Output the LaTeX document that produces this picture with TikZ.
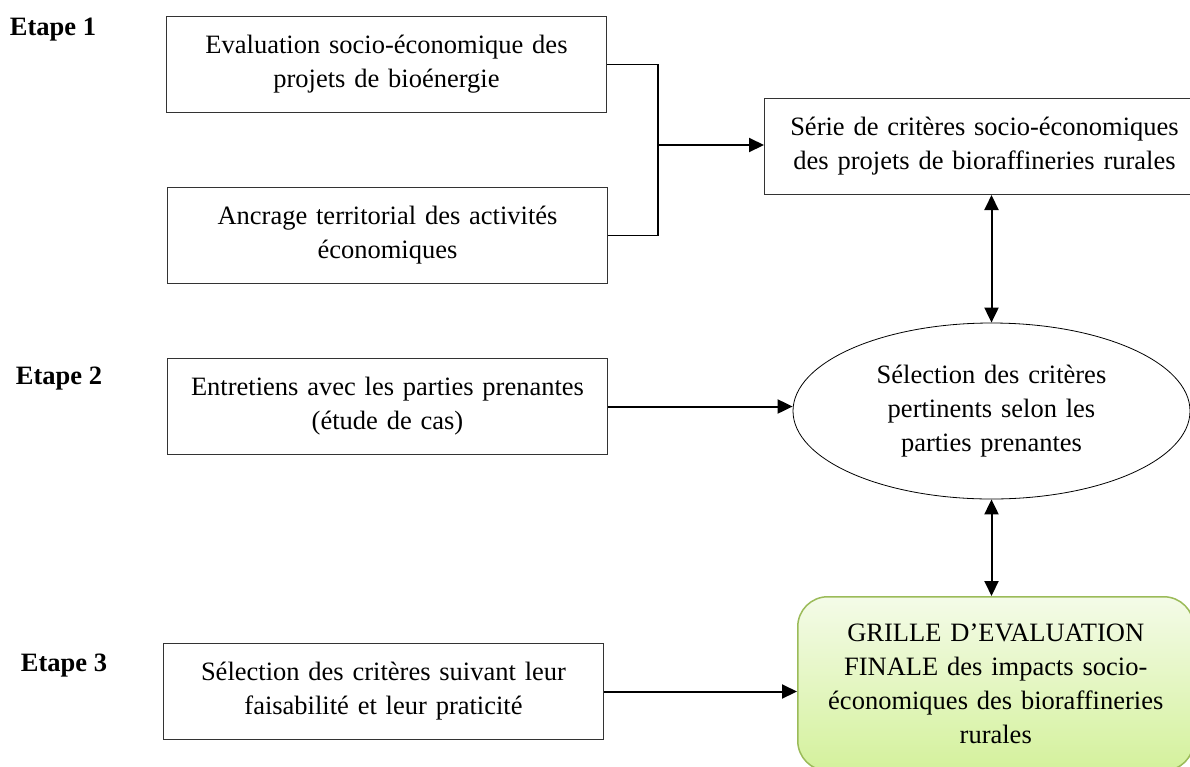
\documentclass[tikz,border=0pt]{standalone}
\usepackage{fontspec}
\setmainfont{Liberation Serif}
\usetikzlibrary{shapes.geometric,arrows.meta}
\definecolor{vertclair}{HTML}{F4FBE8}
\definecolor{vertfonce}{HTML}{D4F19C}
\definecolor{vertbord}{HTML}{9BBB59}
\tikzstyle{incolore} = [rectangle, draw=black!80, line width=1pt, minimum height=96pt, minimum width=440pt, text width=425pt, text centered, inner sep=4pt]
\tikzstyle{bulle} = [ellipse, draw=black, line width=0.8pt, minimum width=397pt, minimum height=176pt, text width=240pt, text centered, inner sep=0pt]
\tikzstyle{grille} = [rectangle, rounded corners=30pt, draw=vertbord, line width=1.5pt, top color=vertclair, bottom color=vertfonce, minimum width=396pt, minimum height=174pt, text width=380pt, text centered, inner sep=4pt]
\tikzstyle{etape} = [font=\fontsize{26.5}{34}\selectfont\bfseries]
\tikzstyle{fleche} = [-{Triangle[length=15pt,width=14pt]}, line width=2pt]
\tikzstyle{doublefleche} = [{Triangle[length=15pt,width=14pt]}-{Triangle[length=15pt,width=14pt]}, line width=2pt]

\begin{document}
\begin{tikzpicture}[x=1pt, y=-1pt, font=\fontsize{26.5}{34}\selectfont]

        \useasboundingbox (0,0) rectangle (1190,766);

        \node (T1) [etape] at (53,30) {Etape 1};
        \node (E1) [incolore, anchor=north west] at (166,16) {Evaluation socio-économique des\\projets de bioénergie};
        \node (E2) [incolore, anchor=north west] at (167,187) {Ancrage territorial des activités\\économiques};
        \node (S) [incolore, anchor=north west] at (764,98) {Série de critères socio-économiques\\des projets de bioraffineries rurales};

        \node (T2) [etape] at (59,379) {Etape 2};
        \node (E3) [incolore, anchor=north west] at (167,358) {Entretiens avec les parties prenantes\\(étude de cas)};
        \node (P) [bulle] at (991.5,411) {Sélection des critères\\pertinents selon les\\parties prenantes};

        \node (T3) [etape] at (64,666) {Etape 3};
        \node (E4) [incolore, anchor=north west] at (163,643) {Sélection des critères suivant leur\\faisabilité et leur praticité};
        \node (G) [grille, anchor=north west] at (797,596) {GRILLE D’EVALUATION\\FINALE des impacts socio-\\économiques des bioraffineries\\rurales};

        \coordinate (J) at (658,145);
        \draw[line width=1.2pt] (E1.east) -| (J) |- (E2.east);
        \draw[fleche] (J) -- (J -| S.west);
        \draw[doublefleche] (P.north |- S.south) -- (P.north);
        \draw[fleche] (E3.east) -- (E3.east -| P.west);
        \draw[doublefleche] (P.south) -- (P.south |- G.north);
        \draw[fleche] (E4.east) -- (E4.east -| G.west);

\end{tikzpicture}
\end{document}
